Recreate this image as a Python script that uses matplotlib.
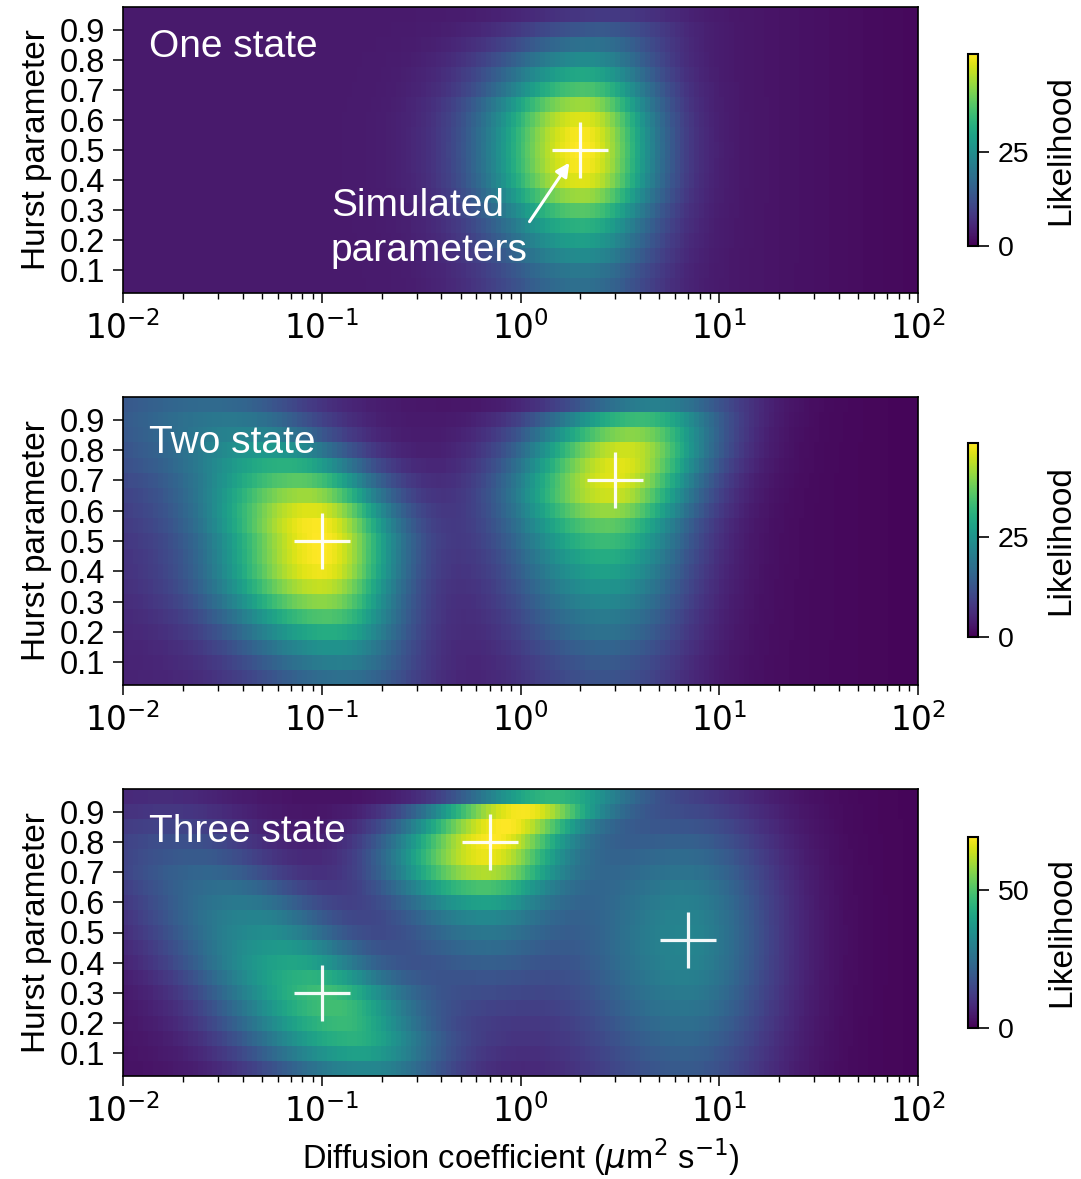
import numpy as np
import matplotlib
matplotlib.use("Agg")
import matplotlib.pyplot as plt
from matplotlib.colors import Normalize

plt.rcParams["font.family"] = ["Liberation Sans", "DejaVu Sans"]
plt.rcParams["mathtext.fontset"] = "dejavusans"

# ---------------------------------------------------------------- data
HURST = [0.05, 0.10, 0.15, 0.20, 0.25, 0.30, 0.35, 0.40, 0.45, 0.50,
         0.55, 0.60, 0.65, 0.70, 0.75, 0.80, 0.85, 0.90, 0.95]
HURST_TICKS = [0.1, 0.2, 0.3, 0.4, 0.5, 0.6, 0.7, 0.8, 0.9]
LOG10_D_LIMITS = (-2.0, 2.0)
N_D_COLUMNS = 160

PANEL_TITLES = ["One state", "Two state", "Three state"]
CBAR_TICKS = [[0, 25], [0, 25], [0, 50]]
BACKGROUND_LEVEL = [3.5, 2.0, 3.0]

# Likelihood ridges: peak height per Hurst row, log10(D) of the peak per row,
# and (left, right) spread in decades.
ONE_A_PEAK = [15, 17, 21, 25, 29, 34, 40, 45, 47, 47.5, 47, 45, 40, 33, 27, 21, 15.5, 10.5, 5]
ONE_A_LOGD = [0.31, 0.31, 0.31, 0.31, 0.31, 0.31, 0.31, 0.31, 0.31, 0.31,
              0.31, 0.31, 0.31, 0.32, 0.32, 0.33, 0.36, 0.40, 0.45]
ONE_A_SPREAD = (0.34, 0.26)

TWO_A_PEAK = [15, 18, 22, 27, 32, 37, 41, 44, 45, 45, 44.5, 42, 37, 31, 25, 19, 14, 11, 8]
TWO_A_LOGD = [-0.88, -0.90, -0.93, -0.95, -0.97, -0.99, -1.00, -1.00, -1.00, -1.00,
              -1.02, -1.04, -1.07, -1.10, -1.15, -1.22, -1.30, -1.38, -1.45]
TWO_A_SPREAD = (0.37, 0.28)
TWO_B_PEAK = [10.5, 11.5, 13.5, 16, 18, 20.5, 23, 25.5, 28, 31,
              34.5, 39, 43, 44.5, 44.5, 43, 38, 31, 19]
TWO_B_LOGD = [0.43, 0.43, 0.43, 0.43, 0.43, 0.43, 0.43, 0.43, 0.43, 0.43,
              0.43, 0.44, 0.45, 0.47, 0.50, 0.53, 0.56, 0.60, 0.68]
TWO_B_SPREAD = (0.36, 0.30)
TWO_TAIL_PEAK = [2.5, 2.5, 2.5, 2.8, 3, 3.2, 3.5, 3.8, 4, 4.5,
                 5, 5.5, 6, 7, 8, 8.5, 9, 9, 8.5]
TWO_TAIL_LOGD = [-2.0] * 19
TWO_TAIL_SPREAD = (0.7, 0.7)

THREE_A_PEAK = [28.5, 35.5, 40.5, 43, 44.5, 44, 41, 37.5, 34, 30.5,
                28, 25, 22, 19.5, 16.5, 14, 11, 8, 5.5]
THREE_A_LOGD = [-0.78, -0.82, -0.86, -0.91, -0.95, -1.00, -1.07, -1.15, -1.21, -1.28,
                -1.34, -1.40, -1.48, -1.57, -1.63, -1.69, -1.73, -1.76, -1.80]
THREE_A_SPREAD = (0.40, 0.30)
THREE_B_PEAK = [2, 3.5, 5, 6, 8, 10.5, 13, 16, 19.5, 23,
                28, 35, 45, 57, 63, 65, 65, 64, 40]
THREE_B_LOGD = [-0.20, -0.20, -0.20, -0.20, -0.20, -0.20, -0.20, -0.20, -0.20, -0.20,
                -0.20, -0.20, -0.20, -0.19, -0.18, -0.15, -0.09, 0.00, 0.15]
THREE_B_SPREAD = (0.34, 0.28)
THREE_C_PEAK = [16.5, 18, 20, 22, 24, 25.5, 27, 28, 28.5, 28.5,
                28, 27, 25.5, 23.5, 21, 18, 15, 12, 9]
THREE_C_LOGD = [0.83] * 19
THREE_C_SPREAD = (0.42, 0.32)

PANEL_RIDGES = [
    [(ONE_A_PEAK, ONE_A_LOGD, ONE_A_SPREAD)],
    [(TWO_A_PEAK, TWO_A_LOGD, TWO_A_SPREAD),
     (TWO_B_PEAK, TWO_B_LOGD, TWO_B_SPREAD),
     (TWO_TAIL_PEAK, TWO_TAIL_LOGD, TWO_TAIL_SPREAD)],
    [(THREE_A_PEAK, THREE_A_LOGD, THREE_A_SPREAD),
     (THREE_B_PEAK, THREE_B_LOGD, THREE_B_SPREAD),
     (THREE_C_PEAK, THREE_C_LOGD, THREE_C_SPREAD)],
]

# Simulated (true) parameters marked by crosses
SIM_D = [[2.0], [0.1, 3.0], [0.1, 0.7, 7.0]]
SIM_H = [[0.5], [0.5, 0.7], [0.3, 0.8, 0.475]]

# ---------------------------------------------------------------- grid
log_edges = np.linspace(LOG10_D_LIMITS[0], LOG10_D_LIMITS[1], N_D_COLUMNS + 1)
log_mid = 0.5 * (log_edges[:-1] + log_edges[1:])
d_edges = 10.0 ** log_edges
hurst = np.asarray(HURST)
step = hurst[1] - hurst[0]
h_edges = np.concatenate([hurst - step / 2, [hurst[-1] + step / 2]])


def ridge(peak, logd, spread):
    peak = np.asarray(peak, float)[:, None]
    centre = np.asarray(logd, float)[:, None]
    dx = log_mid[None, :] - centre
    width = np.where(dx < 0, spread[0], spread[1])
    return peak * np.exp(-0.5 * (dx / width) ** 2)


def background(level):
    # flat at low D, rolling off towards large D
    excess = np.clip(log_mid - 0.6, 0, None)
    return np.tile(level * np.exp(-0.5 * (excess / 0.9) ** 2), (len(HURST), 1))


# ---------------------------------------------------------------- figure
W, H = 1081, 1179
fig = plt.figure(figsize=(W / 100, H / 100), dpi=100)

axes_px = [(7, 293), (397, 685), (789, 1076)]
cbar_px = [(54, 246), (443, 637), (837, 1028)]
x0, x1 = 123, 918
cx0, cx1 = 968, 978

for i in range(3):
    top, bot = axes_px[i]
    ax = fig.add_axes([x0 / W, 1 - bot / H, (x1 - x0) / W, (bot - top) / H])
    z = background(BACKGROUND_LEVEL[i])
    for peak, logd, spread in PANEL_RIDGES[i]:
        z = z + ridge(peak, logd, spread)
    norm = Normalize(vmin=0, vmax=z.max())
    mesh = ax.pcolormesh(d_edges, h_edges, z, cmap="viridis", norm=norm,
                         shading="flat", rasterized=True)
    ax.set_xscale("log")
    ax.set_xlim(d_edges[0], d_edges[-1])
    ax.set_ylim(h_edges[0], h_edges[-1])
    ax.set_yticks(HURST_TICKS)
    ax.set_yticklabels([f"{t:.1f}" for t in HURST_TICKS])
    ax.tick_params(axis="y", labelsize=23.5, length=7, width=1.1, pad=6)
    ax.tick_params(axis="x", which="major", labelsize=23.5, length=7, width=1.1, pad=6)
    ax.tick_params(axis="x", which="minor", length=4, width=1.0)
    for lab in ax.get_xticklabels():
        lab.set_fontfamily("DejaVu Sans")
    for s in ax.spines.values():
        s.set_linewidth(1.2)
    ax.set_ylabel("Hurst parameter", fontsize=24, labelpad=5)

    ax.plot(SIM_D[i], SIM_H[i], linestyle="none", marker="+", ms=41, mew=2.3,
            color="white", alpha=0.95)
    ax.text(0.033, [0.86, 0.84, 0.85][i], PANEL_TITLES[i], transform=ax.transAxes,
            color="white", fontsize=28, va="center", ha="left")

    if i == 0:
        ax.text(0.111, 0.24, "Simulated\nparameters", color="white", fontsize=28,
                va="center", ha="left", linespacing=1.32)
        ax.annotate("", xy=(1.76, 0.458), xytext=(1.11, 0.262),
                    arrowprops=dict(arrowstyle="-|>,head_length=0.8,head_width=0.4",
                                    color="white", lw=2.2, shrinkA=0, shrinkB=0))
    if i == 2:
        ax.set_xlabel(r"Diffusion coefficient ($\mu$m$^2$ s$^{-1}$)", fontsize=23.5,
                      labelpad=5)

    ctop, cbot = cbar_px[i]
    cax = fig.add_axes([cx0 / W, 1 - cbot / H, (cx1 - cx0) / W, (cbot - ctop) / H])
    cb = fig.colorbar(mesh, cax=cax, ticks=CBAR_TICKS[i])
    cb.outline.set_linewidth(1.5)
    cb.ax.tick_params(labelsize=20.5, length=8, width=1.2, pad=6)
    cb.set_label("Likelihood", fontsize=24, labelpad=12)

fig.savefig("out.png", dpi=100)
